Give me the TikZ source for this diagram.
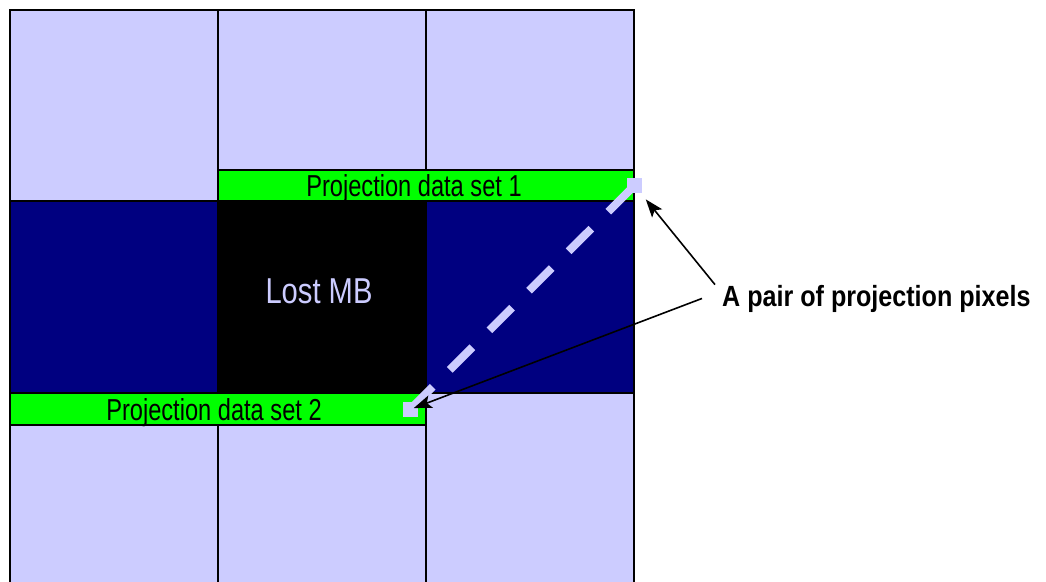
\documentclass[tikz,border=0pt]{standalone}
\usepackage{fontspec}
\usetikzlibrary{arrows.meta}
\newfontfamily\schmal[FakeStretch=0.78]{Liberation Sans}
\newfontfamily\schmalg[FakeStretch=0.81]{Liberation Sans}
\newfontfamily\schmalb[FakeStretch=0.86]{Liberation Sans}
\definecolor{lav}{HTML}{CCCCFF}
\definecolor{marine}{HTML}{000080}
\definecolor{gruen}{HTML}{00FF00}
\tikzset{
  gitter/.style={black,line width=2pt},
  band/.style={fill=gruen,draw=black,line width=1.2pt},
  pfeil/.style={-{Stealth[length=18pt,width=13pt,inset=4pt]},black,line width=1.6pt},
  strich/.style={lav,line width=8pt,dash pattern=on 32pt off 24pt,dash phase=51pt},
  pixel/.style={fill=lav,minimum size=15pt,inner sep=0pt},
  beschr/.style={inner sep=0pt,anchor=base,font=\schmal\fontsize{30.3}{33}\selectfont},
}

\begin{document}
\begin{tikzpicture}[x=1pt,y=-1pt]
  \useasboundingbox (0,0) rectangle (1046,581);
  \fill[lav] (10,10) rectangle (634,590);
  \fill[marine] (10,201) rectangle (634,393);
  \fill[black] (218,201) rectangle (426,393);
  \draw[gitter] (10,590)--(10,10)--(634,10)--(634,590);
  \draw[gitter] (218,10)--(218,590) (426,10)--(426,590);
  \draw[gitter] (10,201)--(634,201) (10,393)--(634,393);
  \draw[band] (218,170) rectangle (634,201);
  \draw[band] (10,393) rectangle (426,425);
  \node[beschr] (set1) at (414,196) {Projection data set 1};
  \node[beschr] (set2) at (214,420) {Projection data set 2};
  \node[beschr,lav,font=\schmalg\fontsize{36}{40}\selectfont] (lost) at (319,303) {Lost MB};
  \node[pixel] (pix1) at (634.5,185.5) {};
  \node[pixel] (pix2) at (410,409.5) {};
  \draw[strich] (pix1.center) -- (pix2.center);
  \node[pixel] at (pix1) {};
  \node[pixel] at (pix2) {};
  \node[inner sep=0pt,anchor=base west,font=\schmalb\bfseries\fontsize{29.2}{32}\selectfont] (pair) at (722,306) {A pair of projection pixels};
  \coordinate (a1) at ([xshift=-7pt]pair.north west);
  \coordinate (a2) at ([xshift=-20pt]pair.west);
  \draw[pfeil,shorten >=8pt] (a1) -- (pix1);
  \draw[pfeil,shorten >=4pt] (a2) -- (pix2.center);
\end{tikzpicture}
\end{document}
